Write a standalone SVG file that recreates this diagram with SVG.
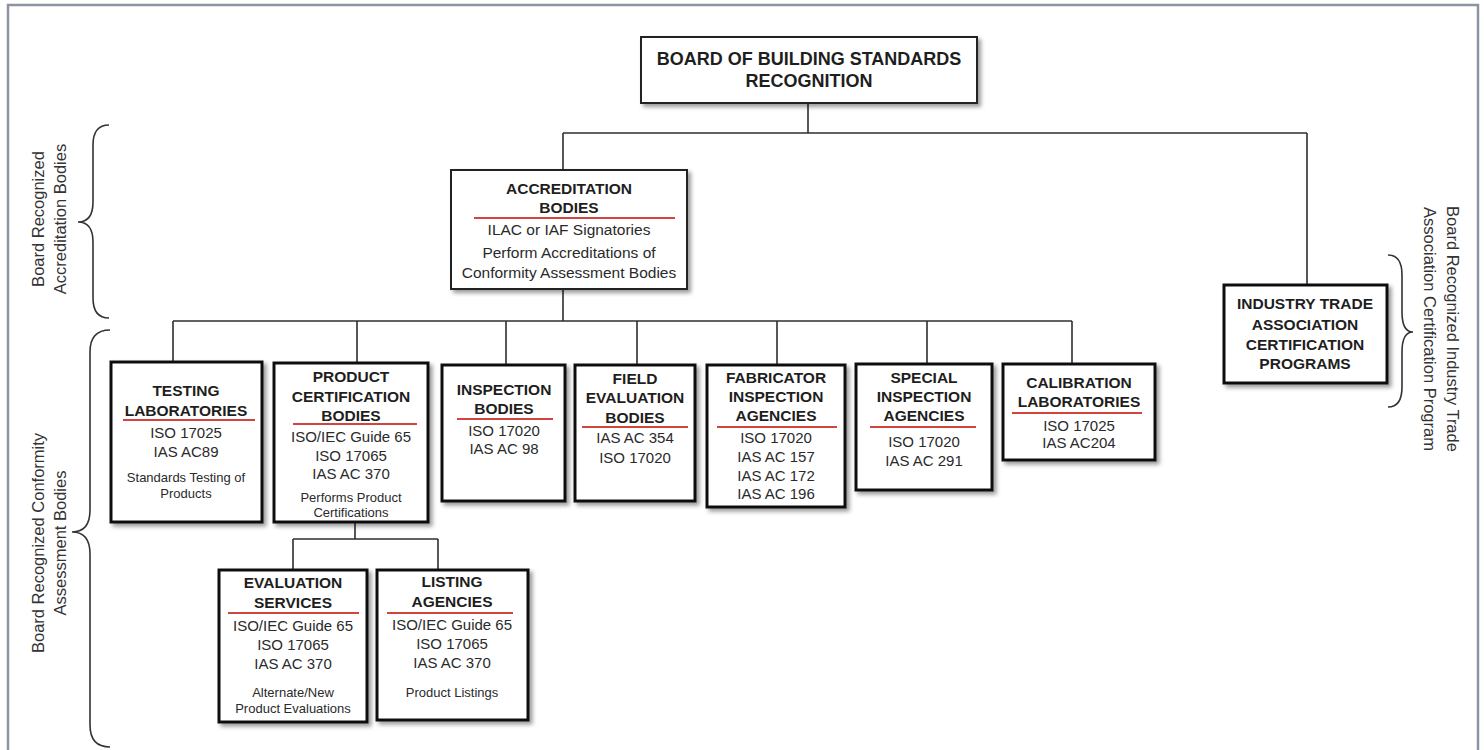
<svg xmlns="http://www.w3.org/2000/svg" width="1484" height="750" viewBox="0 0 1484 750">
<style>
text{font-family:"Liberation Sans",Arial,Helvetica,sans-serif;text-anchor:middle}
.h{font-weight:bold;font-size:15.5px;fill:#1e1e1e}
.ht{font-weight:bold;font-size:18px;fill:#1e1e1e}
.t{font-size:15px;fill:#2a2a2a}
.ta{font-size:15.5px;fill:#2a2a2a}
.s{font-size:13px;fill:#2a2a2a}
.lab{font-size:16.5px;fill:#333;text-anchor:middle}
.box{fill:#fff;stroke:#111;stroke-width:3;filter:url(#sh)}
.box2{fill:#fff;stroke:#222;stroke-width:2;filter:url(#sh)}
.red{stroke:#d2453f;stroke-width:2;fill:none}
.con path{stroke:#2e2e2e;stroke-width:1.6;fill:none}
.brace{stroke:#333;stroke-width:1.6;fill:none}
</style>
<defs>
<filter id="sh" x="-10%" y="-10%" width="125%" height="130%">
<feDropShadow dx="3" dy="3" stdDeviation="2" flood-color="#000" flood-opacity="0.4"/>
</filter>
</defs>
<rect x="0" y="0" width="1484" height="750" fill="#fff"/>
<rect x="8" y="5" width="1470" height="752" fill="none" stroke="#8c93a3" stroke-width="2.5"/>

<g id="connectors" class="con">
<path d="M808,103 V133"/>
<path d="M563,133 H1307"/>
<path d="M563,133 V170"/>
<path d="M1307,133 V285"/>
<path d="M563,289 V321"/>
<path d="M173,321 H1072"/>
<path d="M173,321 V362"/>
<path d="M357,321 V363"/>
<path d="M506,321 V365"/>
<path d="M637,321 V365"/>
<path d="M777,321 V365"/>
<path d="M927,321 V364"/>
<path d="M1072,321 V364"/>
<path d="M355,522 V539"/>
<path d="M293,539 H438"/>
<path d="M293,539 V570"/>
<path d="M438,539 V570"/>
</g>

<g id="labels">
<path class="brace" d="M109,125 Q93,125 93,145 L93,202 Q93,222 78,222 Q93,222 93,242 L93,298 Q93,318 109,318"/>
<text class="lab" transform="translate(44,219) rotate(-90)"><tspan x="0" dy="0">Board Recognized</tspan><tspan x="0" dy="22">Accreditation Bodies</tspan></text>
<path class="brace" d="M110,330 Q90,330 90,352 L90,510 Q90,532 72,532 Q90,532 90,554 L90,725 Q90,747 110,747"/>
<text class="lab" transform="translate(44,543) rotate(-90)"><tspan x="0" dy="0">Board Recognized Conformity</tspan><tspan x="0" dy="22">Assessment Bodies</tspan></text>
<path class="brace" d="M1388,255 Q1402,255 1402,275 L1402,312 Q1402,332 1413,332 Q1402,332 1402,352 L1402,387 Q1402,407 1388,407"/>
<text class="lab" transform="translate(1447,329) rotate(90)"><tspan x="0" dy="0">Board Recognized Industry Trade</tspan><tspan x="0" dy="23">Association Certification Program</tspan></text>
</g>

<g id="board">
<rect class="box2" x="641" y="37" width="336" height="66"/>
<text class="ht" x="809" y="65">BOARD OF BUILDING STANDARDS</text>
<text class="ht" x="809" y="87">RECOGNITION</text>
</g>

<g id="accreditation">
<rect class="box2" x="451" y="170" width="236" height="119"/>
<text class="h" x="569" y="194">ACCREDITATION</text>
<text class="h" x="569" y="213">BODIES</text>
<path class="red" d="M474,218 H675"/>
<text class="ta" x="569" y="235">ILAC or IAF Signatories</text>
<text class="ta" x="569" y="258">Perform Accreditations of</text>
<text class="ta" x="569" y="278">Conformity Assessment Bodies</text>
</g>

<g id="industry">
<rect class="box" x="1224" y="285" width="163" height="98"/>
<text class="h" x="1305" y="309">INDUSTRY TRADE</text>
<text class="h" x="1305" y="330">ASSOCIATION</text>
<text class="h" x="1305" y="350">CERTIFICATION</text>
<text class="h" x="1305" y="369">PROGRAMS</text>
</g>

<g id="testing">
<rect class="box" x="111" y="362" width="151" height="160"/>
<text class="h" x="186" y="396">TESTING</text>
<text class="h" x="186" y="416">LABORATORIES</text>
<path class="red" d="M123,420 H255"/>
<text class="t" x="186" y="438">ISO 17025</text>
<text class="t" x="186" y="457">IAS AC89</text>
<text class="s" x="186" y="482">Standards Testing of</text>
<text class="s" x="186" y="498">Products</text>
</g>

<g id="product">
<rect class="box" x="274" y="363" width="154" height="159"/>
<text class="h" x="351" y="382">PRODUCT</text>
<text class="h" x="351" y="402">CERTIFICATION</text>
<text class="h" x="351" y="421">BODIES</text>
<path class="red" d="M293,424 H417"/>
<text class="t" x="351" y="442">ISO/IEC Guide 65</text>
<text class="t" x="351" y="461">ISO 17065</text>
<text class="t" x="351" y="479">IAS AC 370</text>
<text class="s" x="351" y="502">Performs Product</text>
<text class="s" x="351" y="517">Certifications</text>
</g>

<g id="inspection">
<rect class="box" x="442" y="365" width="123" height="136"/>
<text class="h" x="504" y="395">INSPECTION</text>
<text class="h" x="504" y="414">BODIES</text>
<path class="red" d="M457,419 H553"/>
<text class="t" x="504" y="436">ISO 17020</text>
<text class="t" x="504" y="454">IAS AC 98</text>
</g>

<g id="field">
<rect class="box" x="575" y="365" width="120" height="136"/>
<text class="h" x="635" y="384">FIELD</text>
<text class="h" x="635" y="403">EVALUATION</text>
<text class="h" x="635" y="423">BODIES</text>
<path class="red" d="M582,427 H688"/>
<text class="t" x="635" y="443">IAS AC 354</text>
<text class="t" x="635" y="463">ISO 17020</text>
</g>

<g id="fabricator">
<rect class="box" x="707" y="365" width="138" height="142"/>
<text class="h" x="776" y="383">FABRICATOR</text>
<text class="h" x="776" y="402">INSPECTION</text>
<text class="h" x="776" y="421">AGENCIES</text>
<path class="red" d="M717,427 H837"/>
<text class="t" x="776" y="443">ISO 17020</text>
<text class="t" x="776" y="462">IAS AC 157</text>
<text class="t" x="776" y="481">IAS AC 172</text>
<text class="t" x="776" y="499">IAS AC 196</text>
</g>

<g id="special">
<rect class="box" x="856" y="364" width="136" height="126"/>
<text class="h" x="924" y="383">SPECIAL</text>
<text class="h" x="924" y="402">INSPECTION</text>
<text class="h" x="924" y="421">AGENCIES</text>
<path class="red" d="M870,427 H976"/>
<text class="t" x="924" y="447">ISO 17020</text>
<text class="t" x="924" y="466">IAS AC 291</text>
</g>

<g id="calibration">
<rect class="box" x="1003" y="364" width="152" height="96"/>
<text class="h" x="1079" y="388">CALIBRATION</text>
<text class="h" x="1079" y="407">LABORATORIES</text>
<path class="red" d="M1012,413 H1142"/>
<text class="t" x="1079" y="431">ISO 17025</text>
<text class="t" x="1079" y="448">IAS AC204</text>
</g>

<g id="evaluation">
<rect class="box" x="219" y="570" width="148" height="152"/>
<text class="h" x="293" y="588">EVALUATION</text>
<text class="h" x="293" y="608">SERVICES</text>
<path class="red" d="M228,613 H359"/>
<text class="t" x="293" y="631">ISO/IEC Guide 65</text>
<text class="t" x="293" y="650">ISO 17065</text>
<text class="t" x="293" y="669">IAS AC 370</text>
<text class="s" x="293" y="697">Alternate/New</text>
<text class="s" x="293" y="713">Product Evaluations</text>
</g>

<g id="listing">
<rect class="box" x="377" y="570" width="151" height="150"/>
<text class="h" x="452" y="587">LISTING</text>
<text class="h" x="452" y="607">AGENCIES</text>
<path class="red" d="M387,613 H513"/>
<text class="t" x="452" y="630">ISO/IEC Guide 65</text>
<text class="t" x="452" y="649">ISO 17065</text>
<text class="t" x="452" y="668">IAS AC 370</text>
<text class="s" x="452" y="697">Product Listings</text>
</g>
</svg>
